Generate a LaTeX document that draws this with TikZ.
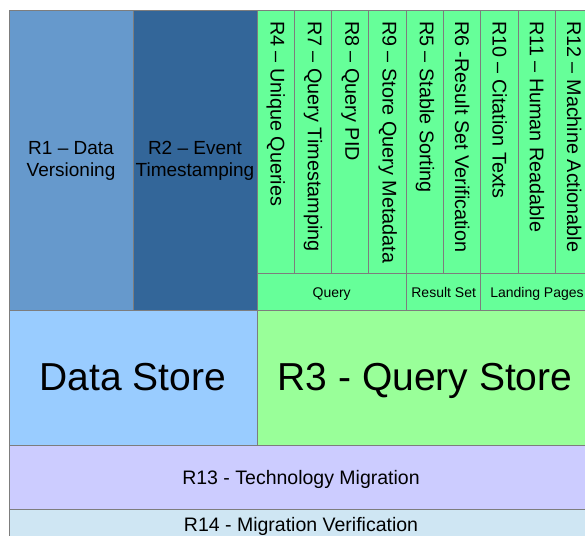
\documentclass[tikz,border=0pt]{standalone}
\usepackage{fontspec}
\setmainfont{Liberation Sans}

\definecolor{verblue}{RGB}{102,153,204}
\definecolor{timeblue}{RGB}{51,102,153}
\definecolor{reqgreen}{RGB}{102,255,153}
\definecolor{storeblue}{RGB}{153,204,255}
\definecolor{storegreen}{RGB}{153,255,153}
\definecolor{migviolet}{RGB}{204,204,255}
\definecolor{verifblue}{RGB}{207,230,243}
\definecolor{edgegray}{RGB}{125,125,125}

\begin{document}
\begin{tikzpicture}[
x=1pt, y=-1pt,
cell/.style={rectangle, draw=edgegray, line width=1pt, inner sep=0pt, outer sep=0pt, anchor=north west},
req/.style={cell, fill=reqgreen, minimum width=37.33pt, minimum height=262pt},
reqtext/.style={rotate=-90, anchor=west, inner sep=0pt, font=\fontsize{19.8}{21}\selectfont},
group/.style={cell, fill=reqgreen, minimum height=37pt, text height=12pt, text depth=0pt, font=\fontsize{14}{16}\selectfont},
big/.style={cell, minimum height=135pt, text height=28pt, text depth=1.6pt, font=\fontsize{39}{44}\selectfont},
wide/.style={cell, minimum width=584pt, text height=15pt, font=\fontsize{19.5}{22}\selectfont},
]
\useasboundingbox (0,0) rectangle (585,535);
\fill[white] (0,0) rectangle (585,535);

% data side
\node[cell, fill=verblue, minimum width=124pt, minimum height=299pt, align=center,
  font=\fontsize{19}{22}\selectfont] (r1) at (9,11) {R1 -- Data\\Versioning};
\node[cell, fill=timeblue, minimum width=124pt, minimum height=299pt, align=center,
  font=\fontsize{19}{22}\selectfont] (r2) at (r1.north east) {R2 -- Event\\Timestamping};

% query side, one column per requirement
\foreach \lbl [count=\i] in {R4 -- Unique Queries, R7 -- Query Timestamping, R8 -- Query PID,
  R9 -- Store Query Metadata, R5 -- Stable Sorting, R6 -Result Set Verification,
  R10 -- Citation Texts, R11 -- Human Readable, R12 -- Machine Actionable}
{
  \node[req] (c\i) at ({257+37.33*(\i-1)},11) {};
  \node[reqtext] (t\i) at ([yshift=-10pt]c\i.north) {\lbl};
}

\node[group, minimum width=149.33pt] (query) at (c1.south west) {Query};
\node[group, minimum width=74.67pt] (resultset) at (c5.south west) {Result Set};
\node[group, minimum width=112pt] (landing) at (c7.south west) {Landing Pages};

% stores
\node[big, fill=storeblue, minimum width=248pt] (datastore) at (r1.south west) {Data Store};
\node[big, fill=storegreen, minimum width=336pt] (querystore) at (datastore.north east) {R3 - Query Store};

% migration
\node[wide, fill=migviolet, minimum height=64pt, text depth=0pt] (r13) at (datastore.south west) {R13 - Technology Migration};
\node[wide, fill=verifblue, minimum height=31pt, text depth=0.5pt] (r14) at (r13.south west) {R14 - Migration Verification};
\end{tikzpicture}
\end{document}
